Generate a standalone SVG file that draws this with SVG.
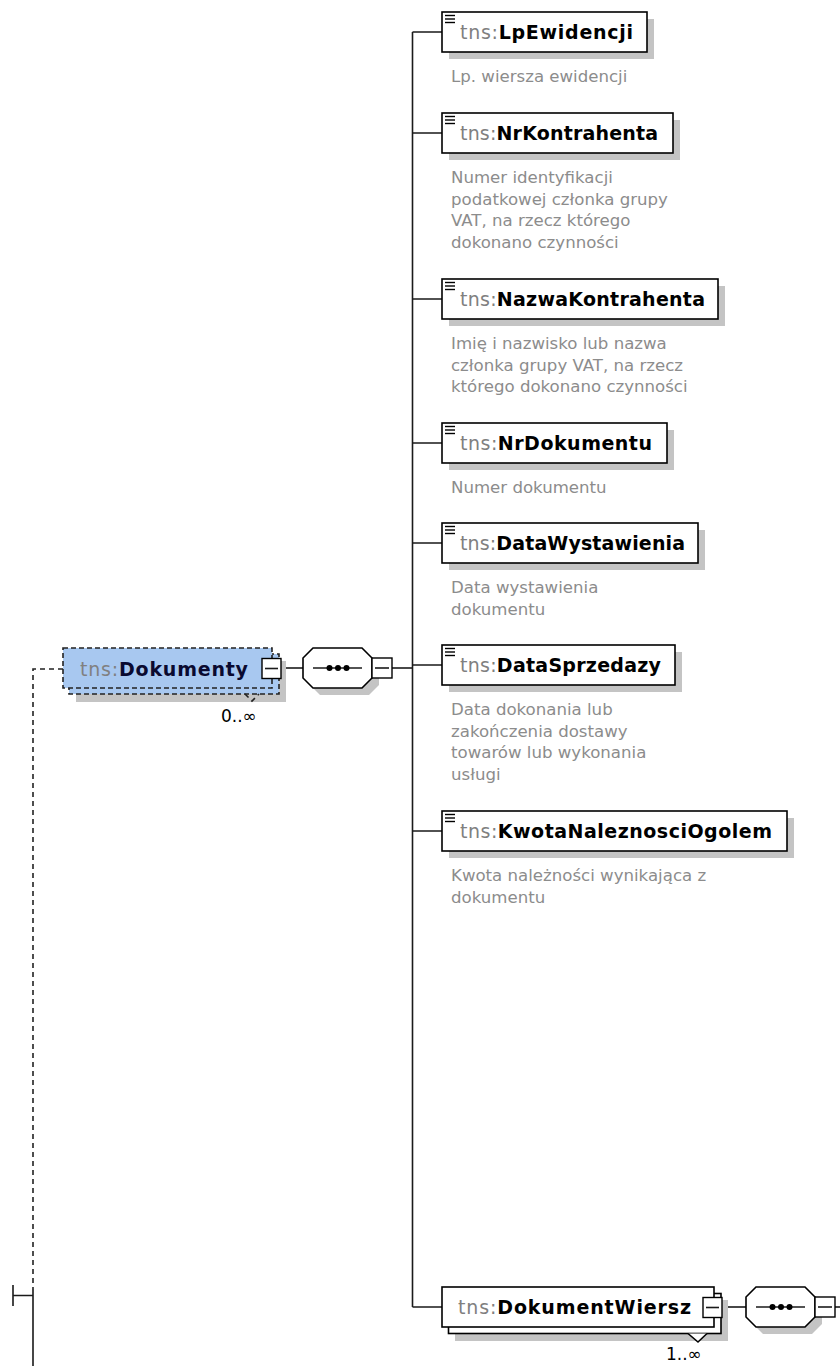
<svg xmlns="http://www.w3.org/2000/svg" width="840" height="1366" viewBox="0 0 840 1366">
<style>
.bg{fill:#fff}
.box{fill:#fff;stroke:#000;stroke-width:1.6}
.shadow{fill:#c4c4c4}
.conn{stroke:#1a1a1a;stroke-width:1.6;fill:none}
.dash{stroke:#222;stroke-width:1.6;fill:none;stroke-dasharray:5 4}
.dbox{fill:#a8c8f0;stroke:#222;stroke-width:1.6;stroke-dasharray:5 3}
.nm{font-family:"DejaVu Sans",sans-serif;font-size:19px;font-weight:bold;fill:#000}
.tns{fill:#808080;font-weight:normal}
.ann{font-family:"DejaVu Sans",sans-serif;font-size:16.6px;fill:#8c8c8c}
.mult{font-family:"DejaVu Sans",sans-serif;font-size:17px;fill:#000}
.btn{fill:#fff;stroke:#000;stroke-width:1.4}
.icon{stroke:#000;stroke-width:1.4}
</style>
<defs>
<g id="ico" class="icon"><line x1="445" y1="3.5" x2="455" y2="3.5"/><line x1="445" y1="7" x2="455" y2="7"/><line x1="445" y1="10.5" x2="455" y2="10.5"/></g>
<g id="oct"><polygon class="shadow" points="17,7 66,7 76,17 76,37 66,47 17,47 7,37 7,17"/><polygon class="box" points="10,0 59,0 69,10 69,30 59,40 10,40 0,30 0,10"/><line class="conn" x1="10" y1="20" x2="59" y2="20"/><circle cx="26.5" cy="20" r="3"/><circle cx="35" cy="20" r="3"/><circle cx="43.5" cy="20" r="3"/><rect class="btn" x="69" y="10" width="20" height="20"/><line class="conn" x1="72" y1="20" x2="86" y2="20"/></g>
</defs>
<rect class="bg" width="840" height="1366"/>

<g id="connectors">
<path class="conn" d="M412.5 32 V1307"/>
<path class="conn" d="M412.5 32 H442 M412.5 133 H442 M412.5 299 H442 M412.5 443 H442 M412.5 543 H442 M412.5 665 H442 M412.5 831 H442 M412.5 1307 H442"/>
<path class="conn" d="M392 668 H412.5"/>
<path class="conn" d="M281 668 H303"/>
<path class="conn" d="M722 1307 H746"/>
<path class="conn" d="M835 1307 H840"/>
<path class="dash" d="M63 669 H33 V1289"/>
<path class="conn" d="M33 1289 V1366 M13 1285 V1306 M13 1295.5 H33"/>
</g>

<g id="LpEwidencji">
<rect class="shadow" x="449" y="19" width="205" height="40"/>
<rect class="box" x="442" y="12" width="205" height="40"/>
<use href="#ico" transform="translate(0,12)"/>
<text class="nm" x="460" y="38.5" textLength="173"><tspan class="tns">tns:</tspan>LpEwidencji</text>
<text class="ann" x="451" y="82">Lp. wiersza ewidencji</text>
</g>

<g id="NrKontrahenta">
<rect class="shadow" x="449" y="120" width="231" height="40"/>
<rect class="box" x="442" y="113" width="231" height="40"/>
<use href="#ico" transform="translate(0,113)"/>
<text class="nm" x="460" y="139.5" textLength="198"><tspan class="tns">tns:</tspan>NrKontrahenta</text>
<text class="ann" x="451" y="183">Numer identyfikacji</text>
<text class="ann" x="451" y="204.5">podatkowej członka grupy</text>
<text class="ann" x="451" y="226">VAT, na rzecz którego</text>
<text class="ann" x="451" y="247.5">dokonano czynności</text>
</g>

<g id="NazwaKontrahenta">
<rect class="shadow" x="449" y="286" width="276" height="40"/>
<rect class="box" x="442" y="279" width="276" height="40"/>
<use href="#ico" transform="translate(0,279)"/>
<text class="nm" x="460" y="305.5" textLength="245"><tspan class="tns">tns:</tspan>NazwaKontrahenta</text>
<text class="ann" x="451" y="349">Imię i nazwisko lub nazwa</text>
<text class="ann" x="451" y="370.5">członka grupy VAT, na rzecz</text>
<text class="ann" x="451" y="392">którego dokonano czynności</text>
</g>

<g id="NrDokumentu">
<rect class="shadow" x="449" y="430" width="225" height="40"/>
<rect class="box" x="442" y="423" width="225" height="40"/>
<use href="#ico" transform="translate(0,423)"/>
<text class="nm" x="460" y="449.5" textLength="192"><tspan class="tns">tns:</tspan>NrDokumentu</text>
<text class="ann" x="451" y="493">Numer dokumentu</text>
</g>

<g id="DataWystawienia">
<rect class="shadow" x="449" y="530" width="256" height="40"/>
<rect class="box" x="442" y="523" width="256" height="40"/>
<use href="#ico" transform="translate(0,523)"/>
<text class="nm" x="460" y="549.5" textLength="225"><tspan class="tns">tns:</tspan>DataWystawienia</text>
<text class="ann" x="451" y="593">Data wystawienia</text>
<text class="ann" x="451" y="614.5">dokumentu</text>
</g>

<g id="DataSprzedazy">
<rect class="shadow" x="449" y="652" width="233" height="40"/>
<rect class="box" x="442" y="645" width="233" height="40"/>
<use href="#ico" transform="translate(0,645)"/>
<text class="nm" x="460" y="671.5" textLength="201"><tspan class="tns">tns:</tspan>DataSprzedazy</text>
<text class="ann" x="451" y="715">Data dokonania lub</text>
<text class="ann" x="451" y="736.5">zakończenia dostawy</text>
<text class="ann" x="451" y="758">towarów lub wykonania</text>
<text class="ann" x="451" y="779.5">usługi</text>
</g>

<g id="KwotaNaleznosciOgolem">
<rect class="shadow" x="449" y="818" width="345" height="40"/>
<rect class="box" x="442" y="811" width="345" height="40"/>
<use href="#ico" transform="translate(0,811)"/>
<text class="nm" x="460" y="837.5" textLength="312"><tspan class="tns">tns:</tspan>KwotaNaleznosciOgolem</text>
<text class="ann" x="451" y="881">Kwota należności wynikająca z</text>
<text class="ann" x="451" y="902.5">dokumentu</text>
</g>

<g id="Dokumenty">
<rect class="shadow" x="76" y="661" width="210" height="41"/>
<rect class="dbox" x="69" y="654" width="210" height="40"/>
<rect class="dbox" x="63" y="648" width="209" height="40"/>
<text class="nm" x="80" y="675.5" textLength="168" style="fill:#0a0a30"><tspan class="tns">tns:</tspan>Dokumenty</text>
<rect class="btn" x="262" y="658.5" width="19" height="20"/>
<line class="conn" x1="265" y1="668.5" x2="278" y2="668.5"/>
<polyline class="dash" points="245,694 252,701 259,694"/>
<text class="mult" x="221" y="722">0..∞</text>
</g>

<g id="seq1" transform="translate(303,648)"><use href="#oct"/></g>

<g id="DokumentWiersz">
<rect class="shadow" x="455" y="1300" width="273" height="41"/>
<rect class="box" x="448.5" y="1293.5" width="272.5" height="40"/>
<rect class="box" x="442" y="1287" width="272" height="40"/>
<text class="nm" x="458" y="1313.5" textLength="233"><tspan class="tns">tns:</tspan>DokumentWiersz</text>
<rect class="btn" x="703" y="1297.5" width="19" height="20"/>
<line class="conn" x1="706" y1="1307.5" x2="719" y2="1307.5"/>
<polyline class="box" points="688,1333.5 698,1342 707,1333.5"/>
<text class="mult" x="666" y="1360">1..∞</text>
</g>

<g id="seq2" transform="translate(746,1287)"><use href="#oct"/></g>
</svg>
